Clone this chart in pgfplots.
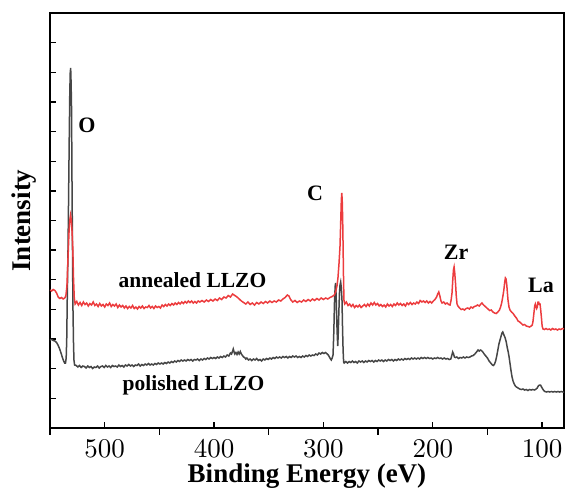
\documentclass[border=0pt]{standalone}
\usepackage{fontspec}
\newfontfamily\tnr{Liberation Serif}
\newfontfamily\lmten{lmroman10-regular.otf}
\usepackage{pgfplots}
\pgfplotsset{compat=1.18}
\definecolor{redl}{RGB}{236,60,62}
\definecolor{grayl}{RGB}{70,70,70}
\begin{document}
\begin{tikzpicture}
\begin{axis}[
  name=ax,
  scale only axis,
  width=514pt, height=415pt,
  xmin=80, xmax=550, x dir=reverse,
  ymin=0, ymax=415,
  xtick={100,200,300,400,500},
  extra x ticks={150,250,350,450,550},
  extra x tick labels={},
  extra x tick style={tick align=outside},
  xtick pos=bottom, ytick pos=left,
  tick align=inside,
  major tick length=6.5pt,
  ytick={29.64,59.29,88.93,118.57,148.21,177.86,207.5,237.14,266.79,296.43,326.07,355.71,385.36},
  yticklabels={},
  axis line style={line width=1.6pt},
  every tick/.style={black, line width=1.4pt},
  /pgf/number format/assume math mode=true,
  xticklabel={\pgfmathprintnumber{\tick}},
  tick label style={font=\lmten\fontsize{27}{30}\selectfont, inner sep=0pt},
  xticklabel style={anchor=base, yshift=-29pt},
  xlabel={Binding Energy (eV)},
  ylabel={Intensity},
  label style={font=\tnr\fontsize{27}{30}\selectfont\bfseries, inner sep=0pt},
  xlabel style={at={(axis description cs:0.5,0)}, anchor=base, yshift=-54pt},
  ylabel style={at={(axis description cs:-0.037,0.5)}, anchor=base},
  clip=true,
]
% polished LLZO
\addplot[grayl, line width=1.5pt] coordinates {
(550,88)(548.5,88.5)(547,87.5)(545.5,87)(544,85.5)(542.7,83)(541.5,80)(540.5,77)(539.5,73.5)(538.5,70)(537.5,67)(536.6,65)(535.8,65)(535.2,70)(534.7,88)(534.2,130)(533.5,180)(532.9,240)(532.4,290)(531.9,335)(531.5,355)(531.1,360)(530.7,345)(530.3,320)(529.9,250)(529.4,175)(529,120)(528.5,85)(528.1,68)(527.5,63)
(526,62.5)(524.5,61)(523,62.5)(521.5,60.5)(520,62)(518.5,61.5)(517,60)(515.5,62)(514,60.5)(512.5,61.5)(511,59.5)(509.5,61)(508,60.5)(506.5,62)(505,60)(503.5,61.5)(502,62)(500.5,60.5)(499,62.5)(497.5,61)(496,62)(494.5,60.5)(493,62.5)(491.5,61.5)(490,62)(488.5,61)(487,63)(485.5,61.5)(484,62.5)(482.5,61)(481,63)(479.5,62)(478,63.5)(476.5,62)(475,63)(473.5,61.5)(472,63)(470.5,62.5)(469,64)(467.5,62)(466,63.5)(464.5,62.5)(463,64)(461.5,63)(460,64.5)(458.5,63)(457,64)(455.5,63)(454,64.5)(452.5,63.5)(451,65)(449.5,64)(448,65)(446.5,64)(445,65.5)(443.5,64.5)(442,66)(440.5,65)(439,66.5)(437.5,65.5)(436,67)(434.5,66)(433,67.5)(431.5,66.5)(430,68)(428.5,67)(427,68)(425.5,67)(424,68.5)(422.5,67.5)(421,68.5)(419.5,67)(418,68.5)(416.5,68)(415,69)(413.5,67.5)(412,69)(410.5,68)(409,69.5)(407.5,68.5)(406,70)(404.5,69)(403,70.5)(401.5,69.5)(400,70.5)(398.5,69.5)(397,71)(395.5,70)(394,71.5)(392.5,70.5)(391,72)(389.5,71)(388,73)(386.5,72)(385,75)(384,74)(383,77)(382.4,79)(381.7,76)(381,74)(380,75.5)(379,73.5)(378,76)(377,74)(376,76.5)(375,74)(374,72.5)(373,71)(372,70.5)(371,69)(370,70)(368.5,68)(367,69)(365.5,67.5)(364,69)(362.5,68)(361,69.5)(359.5,67.5)(358,68.5)(356.5,67)(355,69)(353.5,68)(352,69.5)(350.5,68.5)(349,70)(347.5,69)(346,70.5)(344.5,69.5)(343,71)(341.5,70)(340,71)(338.5,70)(337,71.5)(335.5,70.5)(334,71.5)(332.5,70)(331,71.5)(329.5,70.5)(328,72)(326.5,71)(325,72)(323.5,70.5)(322,71.5)(320.5,70.5)(319,72)(317.5,71)(316,72.5)(314.5,71.5)(313,73)(311.5,72)(310,73)(308.5,72.5)(307,74)(305.5,73)(304,75)(302.5,74)(301,75.5)(299.5,74.5)(298,75.5)(296.5,74)(295.5,73)(294.5,71)(293.5,69)(292.8,68)(292,70)(291.2,73)
(290.5,95)(289.8,128)(289.2,142)(288.8,145)(288.3,130)(287.9,112)(287.4,95)(286.9,82)(286.4,95)(285.9,115)(285.3,135)(284.8,143)(284.2,146)(283.6,140)(283,128)(282.5,100)(282,78)(281.5,66)(281,65)
(279.5,66.5)(278,65)(276.5,66.5)(275,65.5)(273.5,67)(272,65.5)(270.5,66.5)(269,65)(267.5,67)(266,66)(264.5,67)(263,65.5)(261.5,67)(260,66)(258.5,67.5)(257,66.5)(255.5,67.5)(254,66)(252.5,67.5)(251,66.5)(249.5,68)(248,67)(246.5,68)(245,66.5)(243.5,68)(242,67)(240.5,68.5)(239,67.5)(237.5,68.5)(236,67)(234.5,68.5)(233,67.5)(231.5,69)(230,68)(228.5,69)(227,68)(225.5,69.5)(224,68.5)(222.5,69.5)(221,68.5)(219.5,70)(218,69)(216.5,70)(215,69)(213.5,70)(212,69)(210.5,70.5)(209,69.5)(207.5,70.5)(206,69.5)(204.5,70.5)(203,69.5)(201.5,70)(200,69)(198.5,70)(197,69.5)(195.5,70.5)(194,69.5)(192.5,70)(191,69)(189.5,70)(188,69)(186.5,69.5)(185,68.5)(183.5,69)(182.5,73)(181.8,76)(181,74)(180.2,71)(179.3,70.5)(178,71)(176.5,69.5)(175,70.5)(173.5,70)(172,71)(170.5,70)(169,71)(167.5,70.5)(166,71)(164.5,72)(163,72.5)(161.5,74)(160,76)(158.6,78)(157.5,77)(156.5,78)(155.5,77.5)(154.2,76)(153,74)(151.5,72)(150,70)(148.5,67)(147,65)(145.5,63)(144.5,62.5)(143.5,64)(142.5,67)(141.5,72)(140.5,78)(139.5,84)(138.5,88)(137.5,92)(136.7,95)(136,96)(135.3,94)(134.5,92)(133.8,90)(132.8,86)(131.8,80)(131,76)(130.2,71)(129.3,64)(128.4,57)(127.5,51)(126.6,47)(125.5,44)(124.5,42)(123.5,41)(122,40)(120.5,39)(119,38.5)(117.5,39)(116,38)(114.5,38.5)(113,37.5)(111.5,38.5)(110,38)(108.5,38.5)(107,38)(105.5,39)(104.5,40)(103.5,42)(102.5,43)(101.5,43)(100.5,41)(99.5,39)(98.5,37.5)(97.5,36.5)(96,36)(94.5,36.5)(93,36)(91.5,36.5)(90,36)(88.5,36.5)(87,36)(85.5,36.5)(84,36)(82.5,36.5)(81,36)(80,36)
};
% annealed LLZO
\addplot[redl, line width=1.5pt] coordinates {
(550,138)(548.5,137)(547,138.5)(545.5,137.5)(544,135)(542.5,131)(541,129.5)(539.5,130.5)(538,129)(536.5,130)(535.5,132)(534.5,142)(533.6,168)(532.6,196)(531.9,208)(531.2,213)(530.5,208)(529.9,198)(529.2,182)(528.5,150)(527.8,130)(527,124)
(525.5,126.5)(524,123)(522.5,125.5)(521,122.5)(519.5,126)(518,123.5)(516.5,125)(515,122)(513.5,124.5)(512,123)(510.5,126)(509,122.5)(507.5,124)(506,121.5)(504.5,124.5)(503,122)(501.5,123.5)(500,121)(498.5,124)(497,122.5)(495.5,125)(494,121.5)(492.5,123.5)(491,122)(489.5,124)(488,120.5)(486.5,123)(485,121)(483.5,122.5)(482,120)(480.5,122)(479,119.5)(477.5,121.5)(476,120)(474.5,122.5)(473,119.5)(471.5,121)(470,119)(468.5,121.5)(467,120)(465.5,122)(464,119.5)(462.5,121)(461,120.5)(459.5,122.5)(458,120)(456.5,121.5)(455,119.5)(453.5,122)(452,120.5)(450.5,121.5)(449,120)(447.5,123)(446,121.5)(444.5,123.5)(443,122)(441.5,124)(440,122.5)(438.5,124.5)(437,123)(435.5,125)(434,123.5)(432.5,125.5)(431,124)(429.5,126)(428,124.5)(426.5,126.5)(425,125)(423.5,127)(422,125.5)(420.5,127)(419,125)(417.5,126.5)(416,125)(414.5,127)(413,126)(411,127.5)(409,126)(407,128)(405,126.5)(403,128.5)(401,127)(399,129)(397,127.5)(395,130)(393,128.5)(391,131)(389,130)(387,132.5)(385,131)(383,134)(381,132.5)(379,131)(377,129)(375,127)(373,125.5)(371,124)(369,126)(367,123.5)(365,125)(363,123)(361,125.5)(359,124)(357,126)(355,124.5)(353,126.5)(351,125)(349,127)(347,125.5)(345,127)(343,126)(341,128)(339,127)(337,129)(335,130.5)(333,133)(331.5,132)(330,128.5)(328,126)(326,127.5)(324,125.5)(322,127)(320,126)(318,128)(316,126.5)(314,128.5)(312,127)(310,129)(308,127.5)(306,129.5)(304,128)(302,130)(300,128.5)(298,130)(296,129)(294,130.5)(292,131.5)(290,133)
(288.6,137)(287.6,142)(286.7,150)(285.7,165)(284.8,182)(284.2,205)(283.6,228)(283.2,235)(282.8,228)(282.4,210)(282,182)(281.6,150)(281.2,128)(280.5,124)
(279,126)(277.5,122.5)(276,124)(274.5,121.5)(273,123.5)(271.5,120.5)(270,122.5)(268.5,121)(267,123)(265.5,120.5)(264,122)(262.5,123.5)(261,121.5)(259.5,124)(258,122)(256.5,125)(255,123)(253.5,125.5)(252,123)(250.5,124.5)(249,122)(247.5,123.5)(246,121.5)(244.5,123)(243,121)(241.5,124)(240,122)(238.5,123.5)(237,121.5)(235.5,124)(234,122.5)(232.5,125)(231,123)(229.5,124.5)(228,122.5)(226.5,124)(225,122)(223.5,125)(222,123.5)(220.5,125.5)(219,123.5)(217.5,125)(216,124)(214.5,126)(213,124.5)(211.5,127.5)(210,126)(208.5,127)(207,125.5)(205.5,127)(204,125)(202.5,126.5)(201,125)(199.5,127)(198,128.5)(196.5,131)(195.5,134)(194.5,136)(193.5,132)(192.5,127)(191.5,125)(190,126)(188.5,124)(187,125)(185.5,123.5)(184.2,123)
(183.2,128)(182.4,135)(181.7,148)(181.1,158)(180.5,161)(179.9,155)(179.2,145)(178.5,132)(177.8,124)(177,122)
(175.5,120)(174,118.5)(172.5,119)(171,118)(169.5,119.5)(168,120)(166.5,119)(165,121)(163.5,120)(162,121.5)(160.5,122)(159,123)(157.5,122)(156,124)(155,125)(154,123.5)(152.5,122)(151,120.5)(149.5,119)(148,117.5)(146.5,118)(145,116)(143.5,115)(142,114.5)(140.5,116)(139,118)(138,121)(137,125)(136,131)(135,138)(134.2,146)(133.6,150)(133,149)(132.4,144)(131.8,136)(131.2,128)(130.3,121)(129.4,118)(128,116)(126.5,114.5)(125,112)(123.5,110)(122,107)(120.5,106)(119,104.5)(117.5,103)(116,103.5)(114.5,102)(113,101.5)(111.5,101)(110,102)(109,103)(108.3,107)(107.5,115)(106.8,122)(106.2,124)(105.5,121)(105,119.5)(104.4,121)(103.8,126)(103.2,126)(102.6,124)(101.9,124)(101.3,118)(100.6,110)(100,102)(99.2,99)
(98,98.5)(96.5,99.5)(95,98.5)(93.5,99)(92,98)(90.5,99.5)(89,98.5)(87.5,99)(86,98)(84.5,99)(83,98.5)(81.5,99.5)(80,99)
};
\node[anchor=base, font=\tnr\fontsize{22}{24}\selectfont\bfseries] at (axis cs:516.2,296) {O};
\node[anchor=base, font=\tnr\fontsize{22}{24}\selectfont\bfseries] at (axis cs:307.7,228) {C};
\node[anchor=base, font=\tnr\fontsize{22}{24}\selectfont\bfseries] at (axis cs:178.7,169) {Zr};
\node[anchor=base, font=\tnr\fontsize{22}{24}\selectfont\bfseries] at (axis cs:101.0,136) {La};
\node[anchor=base, font=\tnr\fontsize{21.5}{24}\selectfont\bfseries] at (axis cs:419.7,141) {annealed LLZO};
\node[anchor=base, font=\tnr\fontsize{21.5}{24}\selectfont\bfseries] at (axis cs:418.8,38) {polished LLZO};
\end{axis}
\pgfresetboundingbox
\path ([shift={(-50pt,-60pt)}]ax.south west) rectangle ([shift={(2pt,13pt)}]ax.north east);
\end{tikzpicture}
\end{document}
